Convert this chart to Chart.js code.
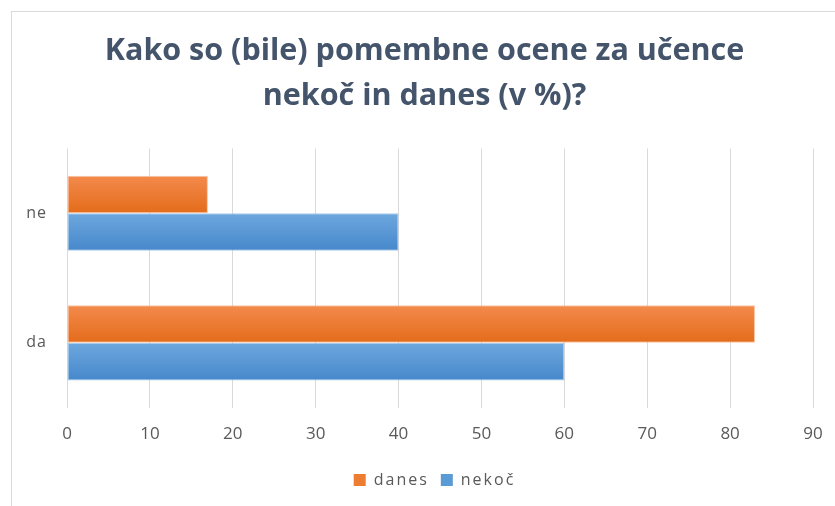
<!DOCTYPE html>
<html>
<head>
<meta charset="utf-8">
<script src="https://cdn.jsdelivr.net/npm/chart.js@4"></script>
<style>
  html, body { margin: 0; background: #fff; overflow: hidden; width: 835px; height: 506px; }
  #frame { position: absolute; left: 11px; top: 11px; width: 830px; height: 500px; border: 1px solid #D9D9D9; box-sizing: border-box; }
  #wrap { position: absolute; left: 0; top: 0; width: 835px; height: 506px; }
</style>
</head>
<body>
<div id="frame"></div>
<div id="wrap"><canvas id="chart" width="835" height="506"></canvas></div>
<script>
const categories = ["ne", "da"];
const danesValues = [17, 83];
const nekocValues = [40, 60];
const xTicks = [0, 10, 20, 30, 40, 50, 60, 70, 80, 90];

const titleLines = ["Kako so (bile) pomembne ocene za učence", "nekoč in danes (v %)?"];

const CAT_PCT = 0.58;

// vertical gradient per bar, Office style
function barGradient(top, bottom, order) {
  return function (ctx) {
    const chart = ctx.chart;
    const y = chart.scales.y;
    if (!y || !chart.chartArea || ctx.dataIndex === undefined) return bottom;
    const band = y.height / categories.length;
    const thick = band * CAT_PCT / 2;
    const c = y.getPixelForValue(ctx.dataIndex);
    const y0 = order === 0 ? c - thick : c;
    const g = chart.ctx.createLinearGradient(0, y0, 0, y0 + thick);
    g.addColorStop(0, top);
    g.addColorStop(1, bottom);
    return g;
  };
}

// title and legend sit a bit right of the plot centre in the original
const shiftBoxes = {
  id: "shiftBoxes",
  afterLayout(chart) {
    chart.titleBlock.left += 18;
    chart.titleBlock.right += 18;
    chart.legend.left += 28;
    chart.legend.right += 28;
  }
};

// wrap a method so its text is drawn with letter spacing
function spaced(obj, method, spacing) {
  const orig = obj[method];
  obj[method] = function (...args) {
    const ctx = this.ctx;
    const prev = ctx.letterSpacing;
    ctx.letterSpacing = spacing;
    const r = orig.apply(this, args);
    ctx.letterSpacing = prev;
    return r;
  };
}

const chart = new Chart(document.getElementById("chart").getContext("2d"), {
  type: "bar",
  data: {
    labels: categories,
    datasets: [
      {
        label: "danes",
        data: danesValues,
        backgroundColor: barGradient("#F38A4C", "#E46C1B", 0),
        borderColor: "rgba(248,180,140,0.8)",
        borderWidth: 1,
        borderSkipped: false
      },
      {
        label: "nekoč",
        data: nekocValues,
        backgroundColor: barGradient("#6DA7DE", "#4688CB", 1),
        borderColor: "rgba(150,190,230,0.8)",
        borderWidth: 1,
        borderSkipped: false
      }
    ]
  },
  options: {
    indexAxis: "y",
    responsive: false,
    animation: false,
    layout: { padding: { left: 0, right: 22, top: 28, bottom: 8 } },
    datasets: { bar: { barPercentage: 1, categoryPercentage: CAT_PCT } },
    plugins: {
      title: {
        display: true,
        text: titleLines,
        color: "#44546A",
        font: { family: "'Open Sans'", size: 30.5, weight: "bold", lineHeight: 1.5 },
        padding: { top: 0, bottom: 29 }
      },
      legend: {
        position: "bottom",
        labels: {
          color: "#595959",
          font: { family: "'Open Sans'", size: 16 },
          boxWidth: 12,
          boxHeight: 12,
          padding: 12,
          generateLabels(chart) {
            return chart.data.datasets.map((ds, i) => ({
              text: ds.label,
              fillStyle: i === 0 ? "#ED7D31" : "#5B9BD5",
              strokeStyle: i === 0 ? "#ED7D31" : "#5B9BD5",
              lineWidth: 0,
              datasetIndex: i,
              fontColor: "#595959"
            }));
          }
        }
      },
      tooltip: { enabled: false }
    },
    scales: {
      x: {
        min: 0,
        max: 90,
        afterBuildTicks(axis) { axis.ticks = xTicks.map(v => ({ value: v })); },
        afterFit(axis) { axis.paddingRight = 0; },
        grid: { color: "#D9D9D9", tickLength: 0, drawTicks: false },
        border: { display: false },
        ticks: { color: "#595959", font: { family: "'Open Sans'", size: 17 }, padding: 16 }
      },
      y: {
        grid: { display: false, drawTicks: false },
        border: { display: false },
        ticks: { color: "#595959", font: { family: "'Open Sans'", size: 16 }, padding: 20 },
        afterFit(axis) { axis.width = 67; }
      }
    }
  },
  plugins: [shiftBoxes]
});

spaced(chart.legend, "fit", "2px");
spaced(chart.legend, "draw", "2px");
spaced(chart.scales.y, "drawLabels", "1px");
chart.update();
</script>
</body>
</html>
